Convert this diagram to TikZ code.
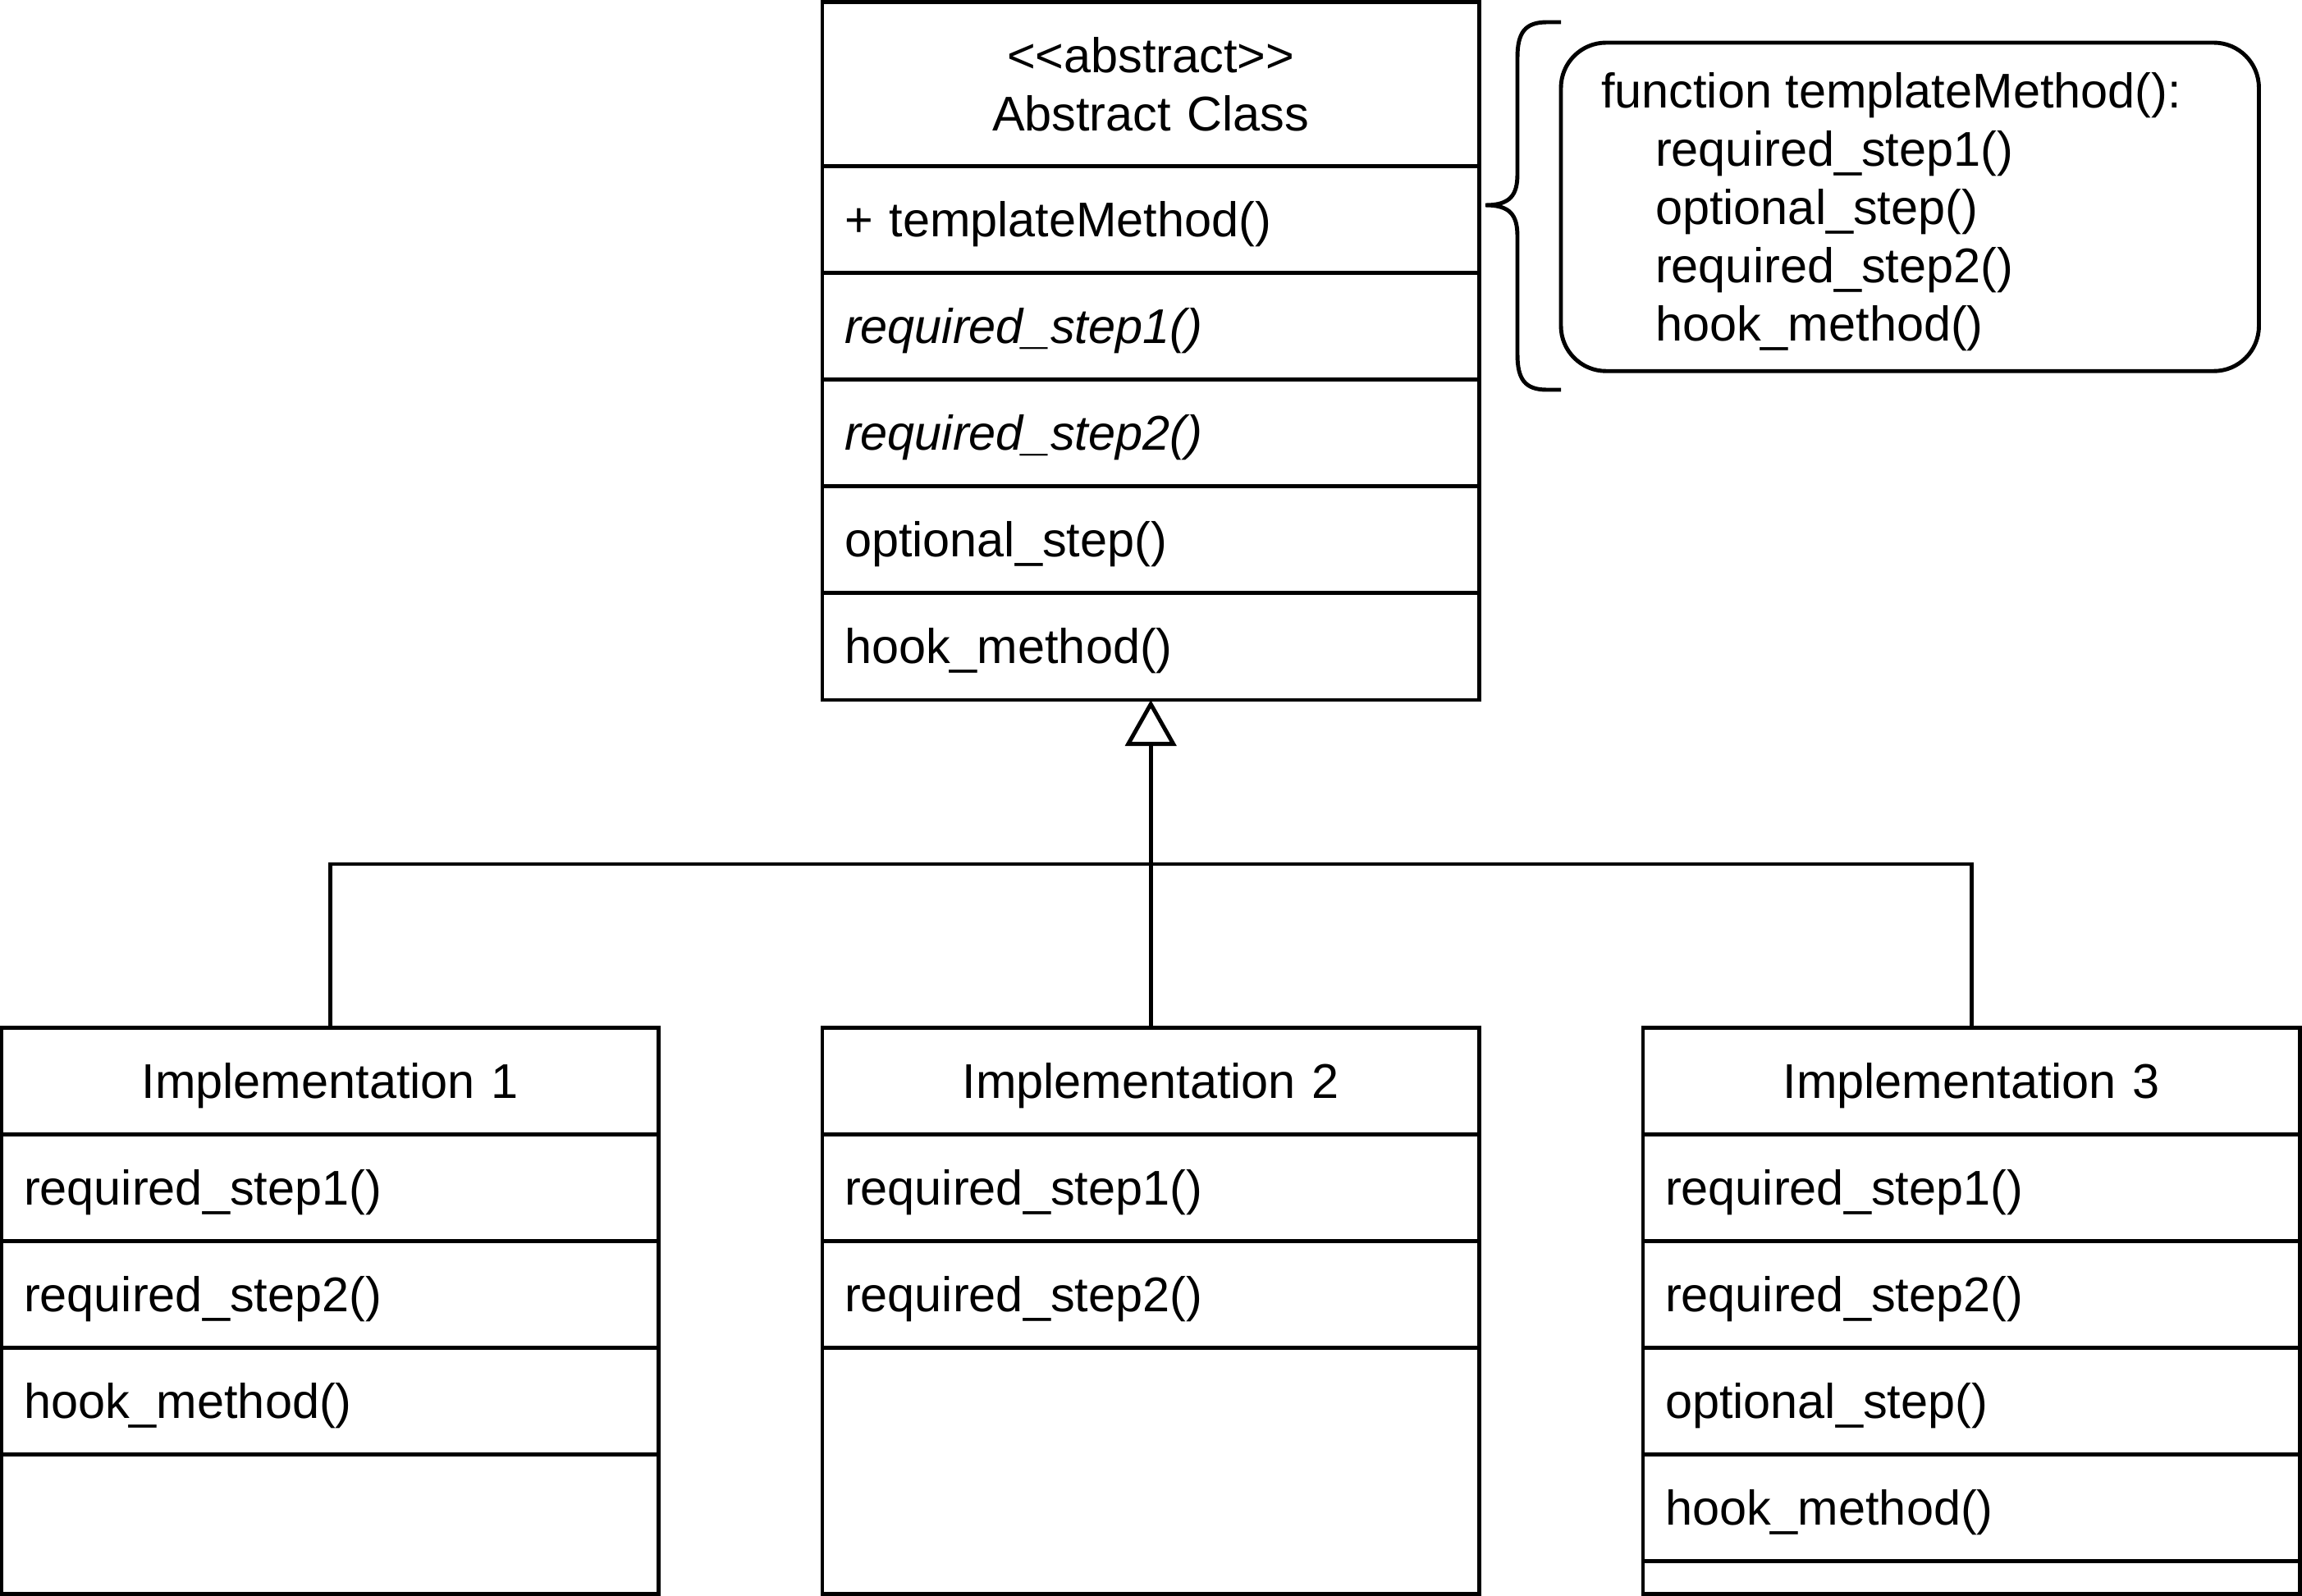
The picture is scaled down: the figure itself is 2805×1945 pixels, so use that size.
\documentclass[tikz,border=0pt]{standalone}
\usepackage{fontspec}
\setmainfont{Liberation Sans}
\usetikzlibrary{arrows.meta}
\begin{document}
\begin{tikzpicture}[x=0.01cm,y=-0.01cm,
  font=\fontsize{16.9}{20.2}\selectfont,
  every node/.style={outer sep=0pt},
  stroke/.style={line width=1.4pt},
  compart/.style={draw, stroke, anchor=north west, minimum width=8cm, inner ysep=0pt},
  member/.style={compart, text width=7.46cm, inner xsep=0.27cm, align=left,
                 text height=0.42cm, text depth=0pt, minimum height=1.3cm},
  classname/.style={member, align=center},
  blank/.style={compart, inner sep=0pt},
  note/.style={draw, stroke, rounded corners=0.55cm, anchor=north west,
               minimum width=8.5cm, minimum height=4cm},
  inherit/.style={stroke, -{Triangle[length=0.56cm, width=0.62cm, fill=white]}}
]
\useasboundingbox (0,0) rectangle (2805,1945);

% abstract class
\node[compart, minimum height=2cm, text width=7.4cm, align=center] (a0) at (1002,2.5)
  {<{}<abstract>{}>\\Abstract Class};
\node[member] (a1) at (a0.south west) {+ templateMethod()};
\node[member] (a2) at (a1.south west) {\itshape required\_step1()};
\node[member] (a3) at (a2.south west) {\itshape required\_step2()};
\node[member] (a4) at (a3.south west) {optional\_step()};
\node[member] (a5) at (a4.south west) {hook\_method()};

% template method note with brace
\draw[stroke] (1902,27) -- (1885,27) .. controls (1858,27) and (1849,40) .. (1849,70)
  -- (1849,212) .. controls (1849,238) and (1840,250) .. (1810,250)
  .. controls (1840,250) and (1849,262) .. (1849,288)
  -- (1849,432) .. controls (1849,462) and (1858,475) .. (1885,475) -- (1902,475);
\node[note] (note) at (1902,52) {};
\node[anchor=north west, inner sep=0pt, align=left] (notetext) at (1951,88)
  {function templateMethod():\\
   \hspace*{1.112em}required\_step1()\\
   \hspace*{1.112em}optional\_step()\\
   \hspace*{1.112em}required\_step2()\\
   \hspace*{1.112em}hook\_method()};

% implementation 1
\node[classname] (i1h) at (2,1252.5) {Implementation 1};
\node[member] (i1a) at (i1h.south west) {required\_step1()};
\node[member] (i1b) at (i1a.south west) {required\_step2()};
\node[member] (i1c) at (i1b.south west) {hook\_method()};
\node[blank, minimum height=1.7cm] (i1d) at (i1c.south west) {};

% implementation 2
\node[classname] (i2h) at (1002,1252.5) {Implementation 2};
\node[member] (i2a) at (i2h.south west) {required\_step1()};
\node[member] (i2b) at (i2a.south west) {required\_step2()};
\node[blank, minimum height=3cm] (i2c) at (i2b.south west) {};

% implementation 3
\node[classname] (i3h) at (2002,1252.5) {Implementation 3};
\node[member] (i3a) at (i3h.south west) {required\_step1()};
\node[member] (i3b) at (i3a.south west) {required\_step2()};
\node[member] (i3c) at (i3b.south west) {optional\_step()};
\node[member] (i3d) at (i3c.south west) {hook\_method()};
\node[blank, minimum height=0.4cm] (i3e) at (i3d.south west) {};

% generalisation
\coordinate (bus) at (1402,1053);
\draw[stroke] (i1h.north) |- (bus) -| (i3h.north);
\draw[inherit] (i2h.north) -- (a5.south);
\end{tikzpicture}
\end{document}
